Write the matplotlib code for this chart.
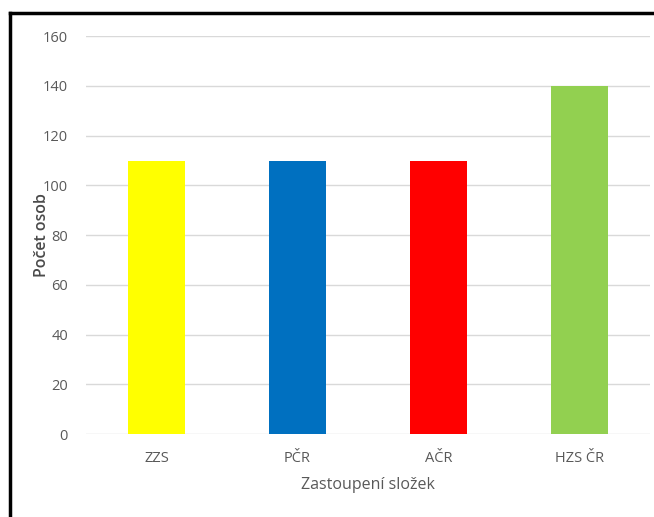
import matplotlib.pyplot as plt
from matplotlib.lines import Line2D

categories = ["ZZS", "PČR", "AČR", "HZS ČR"]
values = [110, 110, 110, 140]
colors = ["#FFFF00", "#0070C0", "#FF0000", "#92D050"]
yticks = [0, 20, 40, 60, 80, 100, 120, 140, 160]

plt.rcParams['font.family'] = ['Open Sans', 'DejaVu Sans']

fig = plt.figure(figsize=(6.54, 5.17), dpi=100)
ax = fig.add_axes([0.1315, 0.1605, 0.8625, 0.7695])

x = range(len(categories))
ax.bar(x, values, width=0.4, color=colors, zorder=3)

ax.set_xlim(-0.5, 3.5)
ax.set_ylim(0, 160)
ax.set_yticks(yticks)
ax.set_xticks(list(x))
ax.set_xticklabels(categories)
ax.grid(axis='y', color='#d9d9d9', linewidth=1, zorder=0)
for s in ax.spines.values():
    s.set_visible(False)
ax.tick_params(length=0, labelsize=10.5, labelcolor='#595959')
ax.tick_params(axis='y', pad=13)
ax.tick_params(axis='x', pad=12)

ax.set_xlabel("Zastoupení složek", fontsize=11.5, color='#595959', labelpad=8)
ax.set_ylabel("Počet osob", fontsize=11.5, color='#4a4a4a', fontweight='semibold')
ax.yaxis.set_label_coords(-0.063, 0.5)

# outer frame (left and top)
fig.add_artist(Line2D([10/654, 10/654], [0, 1 - 13/517], color='black', lw=2.5, transform=fig.transFigure))
fig.add_artist(Line2D([10/654, 1], [1 - 13/517, 1 - 13/517], color='black', lw=2.5, transform=fig.transFigure))

fig.savefig("out.png", dpi=100)
